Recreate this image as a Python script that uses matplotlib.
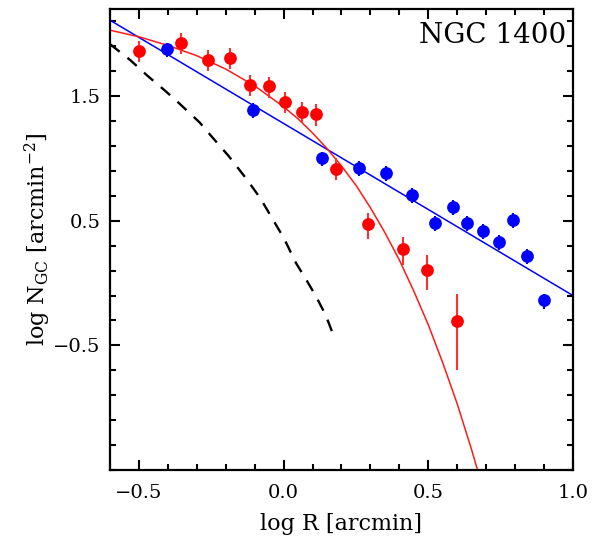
import numpy as np
import matplotlib
matplotlib.use("Agg")
import matplotlib.pyplot as plt
from matplotlib.ticker import FixedLocator, FuncFormatter

plt.rcParams['font.family'] = ['DejaVu Serif']
plt.rcParams['mathtext.fontset'] = 'dejavuserif'

# ---- data ----
red_x = [-0.500, -0.355, -0.261, -0.186, -0.115, -0.050, 0.006, 0.062, 0.113, 0.180, 0.290, 0.412, 0.497, 0.598]
red_y = [1.866, 1.930, 1.792, 1.808, 1.588, 1.578, 1.454, 1.377, 1.355, 0.919, 0.473, 0.273, 0.107, -0.301]
red_err_lo = [0.093, 0.093, 0.093, 0.093, 0.090, 0.090, 0.090, 0.088, 0.093, 0.095, 0.120, 0.125, 0.165, 0.400]
red_err_hi = [0.080, 0.077, 0.080, 0.080, 0.080, 0.080, 0.080, 0.080, 0.080, 0.085, 0.093, 0.100, 0.120, 0.210]

blue_x = [-0.402, -0.105, 0.131, 0.259, 0.355, 0.445, 0.522, 0.586, 0.635, 0.690, 0.744, 0.794, 0.842, 0.900]
blue_y = [1.876, 1.388, 1.001, 0.926, 0.881, 0.707, 0.486, 0.609, 0.481, 0.422, 0.329, 0.507, 0.219, -0.139]
blue_err_lo = [0.065] * 14
blue_err_hi = [0.055] * 14

# blue power-law fit (straight line)
blue_line_x = [-0.60, 1.00]
blue_line_y = [2.110, -0.100]

# red Sersic-like fit
red_curve_x = [-0.60, -0.50, -0.40, -0.30, -0.20, -0.10, 0.00, 0.05, 0.10, 0.15, 0.20, 0.25, 0.30, 0.35, 0.40, 0.45, 0.50, 0.55, 0.60, 0.65, 0.70]
red_curve_y = [2.030, 1.977, 1.908, 1.825, 1.718, 1.583, 1.415, 1.318, 1.205, 1.080, 0.940, 0.785, 0.605, 0.405, 0.185, -0.065, -0.335, -0.640, -0.970, -1.340, -1.740]

# dashed curve
dash_x = [-0.60, -0.53, -0.47, -0.41, -0.36, -0.29, -0.25, -0.19, -0.13, -0.08, -0.04, 0.00, 0.043, 0.08, 0.112, 0.145, 0.175]
dash_y = [1.918, 1.790, 1.663, 1.545, 1.441, 1.289, 1.180, 1.020, 0.841, 0.680, 0.521, 0.365, 0.160, 0.020, -0.107, -0.255, -0.435]

xticks = [-0.5, 0.0, 0.5, 1.0]
yticks = [-0.5, 0.5, 1.5]

# ---- figure ----
fig = plt.figure(figsize=(5.94, 5.41), dpi=100)
ax = fig.add_axes([110/594, 1 - 470/541, (573-110)/594, (470-9)/541])

ax.plot(dash_x, dash_y, color='black', lw=1.7, dashes=(5.2, 4.2))
ax.plot(blue_line_x, blue_line_y, color='#0000ff', lw=1.1)
ax.plot(red_curve_x, red_curve_y, color='#ff1a1a', lw=1.1)

ax.errorbar(red_x, red_y, yerr=[red_err_lo, red_err_hi], fmt='o', color='#ff0000',
            ecolor='#ff3030', elinewidth=1.5, capsize=0, markersize=9.2, markeredgewidth=0)
ax.errorbar(blue_x, blue_y, yerr=[blue_err_lo, blue_err_hi], fmt='o', color='#0000ff',
            ecolor='#0000ff', elinewidth=1.5, capsize=0, markersize=9.2, markeredgewidth=0)

ax.set_xlim(-0.6, 1.0)
ax.set_ylim(-1.5, 2.2)

ax.xaxis.set_major_locator(FixedLocator(xticks))
ax.yaxis.set_major_locator(FixedLocator(yticks))
ax.xaxis.set_minor_locator(FixedLocator(np.round(np.arange(-0.6, 1.001, 0.1), 2)))
ax.yaxis.set_minor_locator(FixedLocator(np.round(np.arange(-1.5, 2.21, 0.2), 2)))
fmt = FuncFormatter(lambda v, p: f"{v:.1f}".replace('-', '\u2212'))
ax.xaxis.set_major_formatter(fmt)
ax.yaxis.set_major_formatter(fmt)

ax.tick_params(which='both', direction='in', top=True, right=True, width=1.5, labelsize=14)
ax.tick_params(which='major', length=7.5)
ax.tick_params(axis='x', which='major', pad=10)
ax.tick_params(axis='y', which='major', pad=7)
ax.tick_params(which='minor', length=4.3)
for s in ax.spines.values():
    s.set_linewidth(1.6)

ax.set_xlabel('log R [arcmin]', fontsize=16, labelpad=8)
ax.set_ylabel(r'log N$_{\rm GC}$ [arcmin$^{-2}$]', fontsize=16, labelpad=0)

ax.text(0.985, 0.972, 'NGC 1400', transform=ax.transAxes, ha='right', va='top', fontsize=20)

fig.savefig('out.png', dpi=100)
